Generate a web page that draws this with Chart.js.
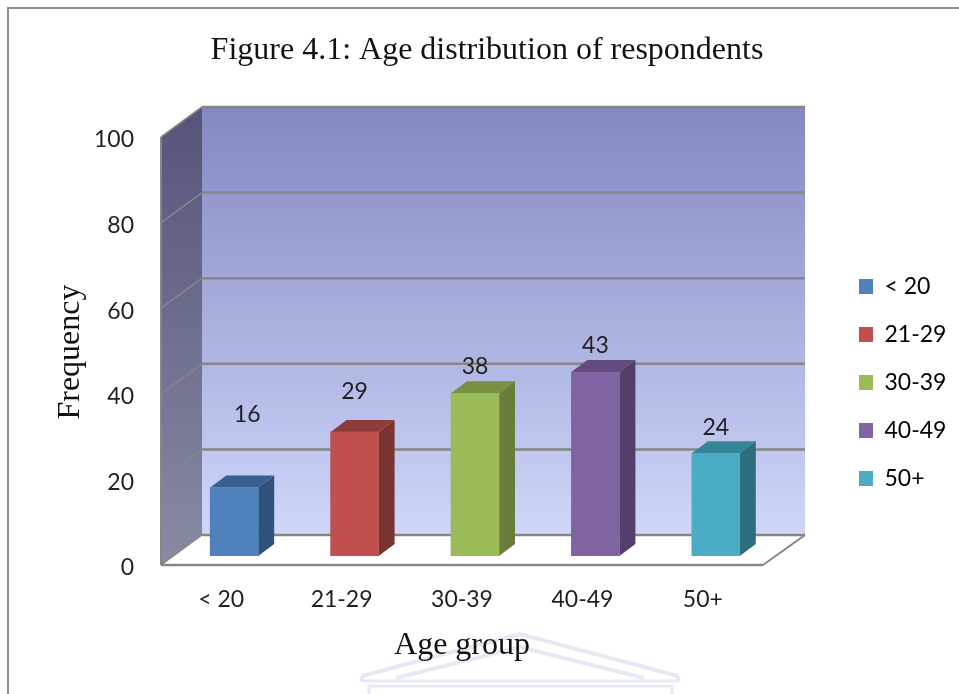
<!DOCTYPE html>
<html>
<head>
<meta charset="utf-8">
<style>html,body{margin:0;padding:0;background:#fff}canvas{display:block}</style>
<script src="https://cdn.jsdelivr.net/npm/chart.js@4"></script>
</head>
<body>
<canvas id="c" width="959" height="694"></canvas>
<script>
const titleText = 'Figure 4.1: Age distribution of respondents';
const xTitle = 'Age group';
const yTitle = 'Frequency';
const categories = ['< 20', '21-29', '30-39', '40-49', '50+'];
const frequency = [16, 29, 38, 43, 24];
const yTicksStep = 20;
const yMax = 100;

const frontColors = ['#4f81bd', '#c0504d', '#9bbb59', '#8064a2', '#4bacc6'];
const sideColors = ['#30537c', '#793331', '#687d3a', '#533f6b', '#2e6d7e'];
const topColors = ['#385f8d', '#8e3c39', '#7a9142', '#624b7e', '#368499'];
const labelShiftX = [13, 0, 0, 0, 0];
const labelShiftY = [-73, -40, -27, -26, -26];

const sansFont = 'Lato, Carlito, sans-serif';
const serifFont = '"Liberation Serif", serif';
const gridColor = '#868686';
const depth = { backDx: 28, backDy: -21, frontDx: -13, frontDy: 9, barDx: 16, barDy: -12 };

function nudgeTitle(scale, dx, dy) {
  if (scale.__nudged) return;
  const original = scale.drawTitle;
  scale.drawTitle = function () {
    const ctx = this.ctx;
    ctx.save(); ctx.translate(dx, dy); original.call(this); ctx.restore();
  };
  scale.__nudged = true;
}
function poly(ctx, pts, fill) {
  ctx.beginPath();
  pts.forEach((p, i) => i ? ctx.lineTo(p[0], p[1]) : ctx.moveTo(p[0], p[1]));
  ctx.closePath();
  ctx.fillStyle = fill;
  ctx.fill();
}
function line(ctx, a, b, color, w) {
  ctx.beginPath(); ctx.moveTo(a[0], a[1]); ctx.lineTo(b[0], b[1]);
  ctx.strokeStyle = color; ctx.lineWidth = w; ctx.stroke();
}

const scene3d = {
  id: 'scene3d',
  beforeLayout(chart) {
    const lg = chart.legend;
    if (lg && !lg.__fit) {
      lg.__fit = lg.fit;
      lg.fit = function () { this.__fit(); this.width = 183; };
    }
  },
  afterLayout(chart) {
    const lg = chart.legend;
    lg.left = 834; lg.right = 959;
    const dy = 250 - lg.top;
    lg.top += dy; lg.bottom += dy;
    nudgeTitle(chart.scales.x, -13, 0);
    nudgeTitle(chart.scales.y, 0, 10);
  },
  beforeDraw(chart) {
    const ctx = chart.ctx, y = chart.scales.y, a = chart.chartArea;
    const d = depth;
    ctx.save();
    ctx.fillStyle = '#fff';
    ctx.fillRect(0, 0, chart.width, chart.height);

    // page frame
    ctx.strokeStyle = '#8f8f8f'; ctx.lineWidth = 2;
    ctx.strokeRect(8, 8, 1200, 1200);

    // faint watermark behind the axis title
    ctx.strokeStyle = '#e6e9f3'; ctx.lineWidth = 4;
    [[[362, 676], [520, 634], [678, 676]], [[396, 678], [520, 647], [644, 678]]].forEach(r => {
      ctx.beginPath(); ctx.moveTo(r[0][0], r[0][1]); ctx.lineTo(r[1][0], r[1][1]); ctx.lineTo(r[2][0], r[2][1]); ctx.stroke();
    });
    line(ctx, [362, 676], [362, 682], '#e6e9f3', 4);
    line(ctx, [678, 676], [678, 682], '#e6e9f3', 4);
    line(ctx, [362, 681], [678, 681], '#e6e9f3', 3);
    ctx.strokeRect(369, 686, 303, 20);

    const top = y.getPixelForValue(yMax), bot = y.getPixelForValue(0);
    const bl = a.left + d.backDx, br = a.right + d.backDx + 1;
    const fl = a.left + d.frontDx, fr = a.right + d.frontDx;

    // back wall
    let g = ctx.createLinearGradient(0, top + d.backDy, 0, bot + d.backDy);
    g.addColorStop(0, '#8587c2'); g.addColorStop(1, '#ced7fa');
    poly(ctx, [[bl, top + d.backDy], [br, top + d.backDy], [br, bot + d.backDy], [bl, bot + d.backDy]], g);

    // side wall
    g = ctx.createLinearGradient(0, top + d.backDy, 0, bot + d.frontDy);
    g.addColorStop(0, '#54547a'); g.addColorStop(1, '#878ba3');
    poly(ctx, [[fl, top + d.frontDy], [bl, top + d.backDy], [bl, bot + d.backDy], [fl, bot + d.frontDy]], g);

    // grid lines from the y scale ticks
    y.ticks.forEach(t => {
      const py = y.getPixelForValue(t.value);
      const by = py + d.backDy, fy = py + d.frontDy;
      if (t.value > 0) line(ctx, [fl, fy], [bl, by], gridColor, 1.5);
      line(ctx, [bl, by], [br, by], gridColor, 2.5);
    });

    // wall and floor outlines
    line(ctx, [fl, top + d.frontDy], [fl, bot + d.frontDy], gridColor, 2);
    line(ctx, [fl, top + d.frontDy], [bl, top + d.backDy], gridColor, 1.5);
    line(ctx, [fl, bot + d.frontDy], [fr, bot + d.frontDy], gridColor, 2.5);
    line(ctx, [fr, bot + d.frontDy], [br, bot + d.backDy], gridColor, 2);
    line(ctx, [fl, bot + d.frontDy], [bl, bot + d.backDy], gridColor, 1.5);
    ctx.restore();
  },
  beforeDatasetsDraw(chart) {
    const ctx = chart.ctx, d = depth;
    ctx.save();
    chart.getDatasetMeta(0).data.forEach((bar, i) => {
      const l = bar.x - bar.width / 2, r = bar.x + bar.width / 2;
      poly(ctx, [[r, bar.y], [r + d.barDx, bar.y + d.barDy], [r + d.barDx, bar.base + d.barDy], [r, bar.base]], sideColors[i]);
      poly(ctx, [[l, bar.y], [l + d.barDx, bar.y + d.barDy], [r + d.barDx, bar.y + d.barDy], [r, bar.y]], topColors[i]);
    });
    ctx.restore();
  },
  afterDatasetsDraw(chart) {
    const ctx = chart.ctx;
    ctx.save();
    ctx.font = '23px ' + sansFont;
    ctx.fillStyle = '#1f1f1f';
    ctx.textAlign = 'center';
    ctx.textBaseline = 'middle';
    chart.getDatasetMeta(0).data.forEach((bar, i) => {
      ctx.fillText(String(frequency[i]), bar.x + labelShiftX[i], bar.y + labelShiftY[i]);
    });
    ctx.restore();
  }
};

new Chart(document.getElementById('c'), {
  type: 'bar',
  data: {
    labels: categories,
    datasets: [{
      label: yTitle,
      data: frequency,
      backgroundColor: frontColors,
      borderWidth: 0,
      barThickness: 48
    }]
  },
  plugins: [scene3d],
  options: {
    responsive: false,
    animation: false,
    devicePixelRatio: 1,
    layout: { padding: { left: 15, right: 0, top: 0, bottom: 0 } },
    plugins: {
      title: {
        display: true,
        text: titleText,
        color: '#111',
        font: { family: serifFont, size: 32, weight: 'normal' },
        padding: { top: 31, bottom: 58.6 }
      },
      legend: {
        position: 'right',
        align: 'start',
        labels: {
          color: '#1f1f1f',
          font: { family: sansFont, size: 23 },
          boxWidth: 14,
          boxHeight: 15,
          padding: 25,
          generateLabels: () => categories.map((c, i) => ({
            text: c, fillStyle: frontColors[i], strokeStyle: frontColors[i], lineWidth: 0, hidden: false, index: i
          }))
        }
      },
      tooltip: { enabled: false }
    },
    scales: {
      x: {
        grid: { display: false },
        border: { display: false },
        ticks: { color: '#1f1f1f', font: { family: sansFont, size: 23 }, padding: 22, maxRotation: 0, labelOffset: -13 },
        title: {
          display: true, text: xTitle, color: '#111',
          font: { family: serifFont, size: 32, weight: 'normal' },
          padding: { top: 0, bottom: 29 }
        },
        afterFit(s) { s.height = 138; }
      },
      y: {
        min: 0, max: yMax,
        grid: { display: false },
        border: { display: false },
        ticks: { stepSize: yTicksStep, color: '#1f1f1f', font: { family: sansFont, size: 23 }, padding: 32, labelOffset: 12 },
        title: {
          display: true, text: yTitle, color: '#111',
          font: { family: serifFont, size: 32, weight: 'normal' },
          padding: { top: 36, bottom: 0 }
        },
        afterFit(s) { s.width = 159; }
      }
    }
  }
});
</script>
</body>
</html>
